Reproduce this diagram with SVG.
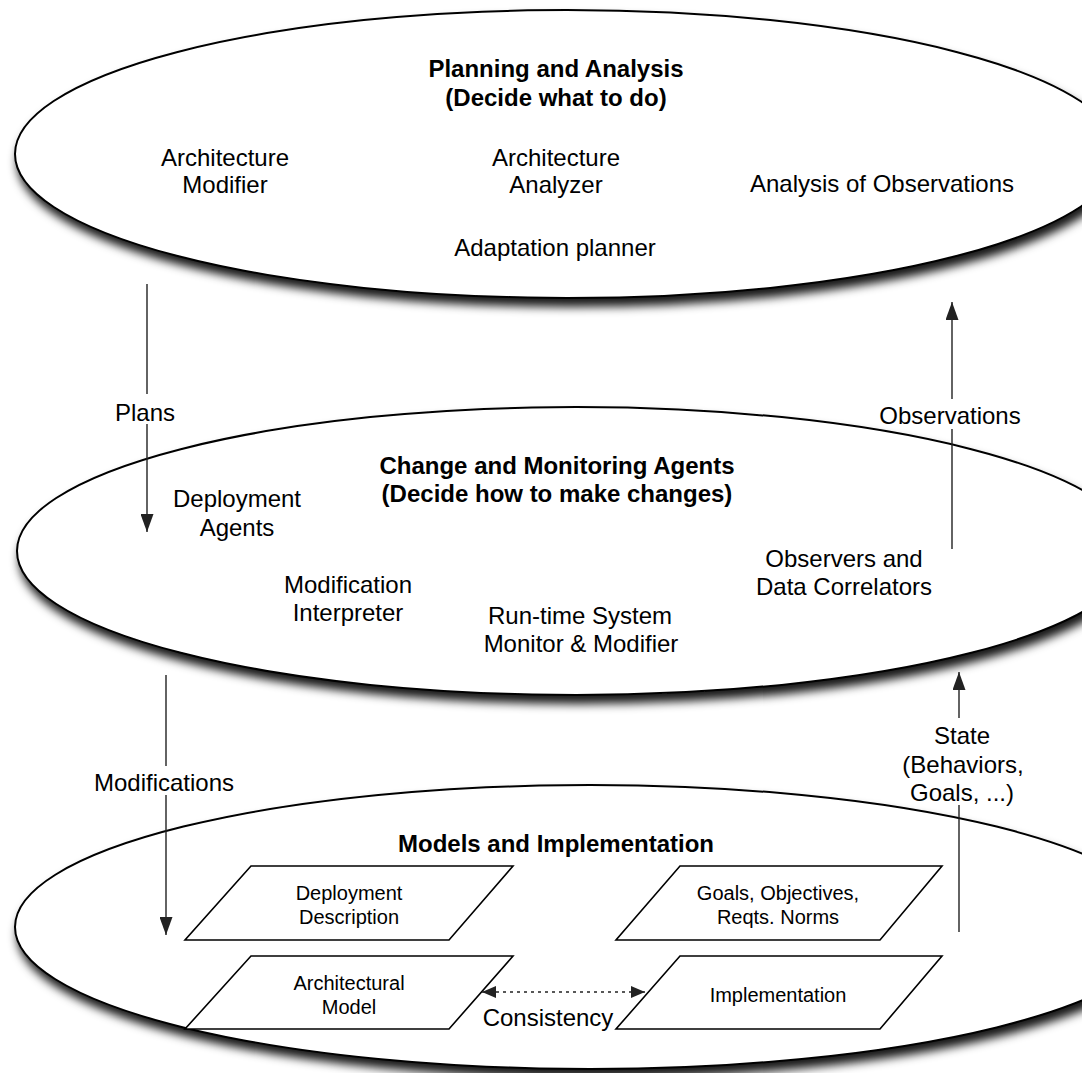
<svg xmlns="http://www.w3.org/2000/svg" width="1082" height="1073" viewBox="0 0 1082 1073">
<style>
  text { font-family: "Liberation Sans", Arial, sans-serif; fill: #000; text-anchor: middle; }
  .t { font-size: 24px; }
  .b { font-size: 24px; font-weight: bold; }
  .s { font-size: 20px; }
  .ell { fill: #fff; stroke: #000; stroke-width: 2; filter: url(#sh); }
  .para { fill: #fff; stroke: #000; stroke-width: 1.6; }
  .ln { stroke: #222; stroke-width: 1.4; fill: none; }
  .dot { stroke: #222; stroke-width: 1.6; fill: none; stroke-dasharray: 3 4; }
</style>
<defs>
  <filter id="sh" x="-5%" y="-10%" width="110%" height="125%">
    <feDropShadow dx="3" dy="8" stdDeviation="5" flood-color="#000" flood-opacity="0.9"/>
  </filter>
  <marker id="ah" viewBox="0 0 18 13" refX="18" refY="6.5" markerWidth="18" markerHeight="13" orient="auto" markerUnits="userSpaceOnUse">
    <path d="M0,0 L18,6.5 L0,13 z" fill="#222"/>
  </marker>
  <marker id="ah2" viewBox="0 0 14 12" refX="14" refY="6" markerWidth="14" markerHeight="12" orient="auto-start-reverse" markerUnits="userSpaceOnUse">
    <path d="M0,0 L14,6 L0,12 z" fill="#222"/>
  </marker>
</defs>
<rect width="1082" height="1073" fill="#fff"/>

<g id="planning">
  <ellipse class="ell" cx="567" cy="154" rx="552" ry="144"/>
  <text class="b" x="556" y="76.5">Planning and Analysis</text>
  <text class="b" x="556" y="105.5">(Decide what to do)</text>
  <text class="t" x="225" y="165.5">Architecture</text>
  <text class="t" x="225" y="192.5">Modifier</text>
  <text class="t" x="556" y="165.5">Architecture</text>
  <text class="t" x="556" y="192.5">Analyzer</text>
  <text class="t" x="882" y="191.5">Analysis of Observations</text>
  <text class="t" x="555" y="255.5">Adaptation planner</text>
</g>

<g id="change">
  <ellipse class="ell" cx="576" cy="551" rx="559" ry="144"/>
  <text class="b" x="557" y="473.5">Change and Monitoring Agents</text>
  <text class="b" x="557" y="501.5">(Decide how to make changes)</text>
  <text class="t" x="237" y="506.5">Deployment</text>
  <text class="t" x="237" y="535.5">Agents</text>
  <text class="t" x="348" y="592.5">Modification</text>
  <text class="t" x="348" y="620.5">Interpreter</text>
  <text class="t" x="580" y="623.5">Run-time System</text>
  <text class="t" x="581" y="651.5">Monitor &amp; Modifier</text>
  <text class="t" x="844" y="566.5">Observers and</text>
  <text class="t" x="844" y="594.5">Data Correlators</text>
</g>

<g id="models">
  <ellipse class="ell" cx="590" cy="927" rx="575" ry="142"/>
  <text class="b" x="556" y="851.5">Models and Implementation</text>
  <g id="deployment-description">
    <polygon class="para" points="251,866 513,866 449,940 185,940"/>
    <text class="s" x="349" y="900">Deployment</text>
    <text class="s" x="349" y="924">Description</text>
  </g>
  <g id="architectural-model">
    <polygon class="para" points="251,956 513,956 449,1029 185,1029"/>
    <text class="s" x="349" y="990">Architectural</text>
    <text class="s" x="349" y="1014">Model</text>
  </g>
  <g id="goals">
    <polygon class="para" points="680,866 942,866 880,940 616,940"/>
    <text class="s" x="778" y="900">Goals, Objectives,</text>
    <text class="s" x="778" y="924">Reqts. Norms</text>
  </g>
  <g id="implementation">
    <polygon class="para" points="680,956 942,956 880,1029 616,1029"/>
    <text class="s" x="778" y="1002">Implementation</text>
  </g>
</g>

<g id="connectors">
  <!-- Plans -->
  <line class="ln" x1="147" y1="284" x2="147" y2="394"/>
  <line class="ln" x1="147" y1="424" x2="147" y2="532" marker-end="url(#ah)"/>
  <text class="t" x="145" y="420.5">Plans</text>
  <!-- Observations -->
  <line class="ln" x1="952" y1="549" x2="952" y2="429"/>
  <line class="ln" x1="952" y1="399" x2="952" y2="302" marker-end="url(#ah)"/>
  <text class="t" x="950" y="424">Observations</text>
  <!-- Modifications -->
  <line class="ln" x1="166" y1="675" x2="166" y2="766"/>
  <line class="ln" x1="166" y1="795" x2="166" y2="935" marker-end="url(#ah)"/>
  <text class="t" x="164" y="790.5">Modifications</text>
  <!-- State -->
  <line class="ln" x1="959" y1="932" x2="959" y2="805"/>
  <line class="ln" x1="959" y1="718" x2="959" y2="672" marker-end="url(#ah)"/>
  <text class="t" x="962" y="743.5">State</text>
  <text class="t" x="963" y="772.5">(Behaviors,</text>
  <text class="t" x="962" y="800.5">Goals, ...)</text>
  <!-- Consistency -->
  <line class="dot" x1="482" y1="992" x2="645" y2="992" marker-start="url(#ah2)" marker-end="url(#ah2)"/>
  <text class="t" x="548" y="1025.5">Consistency</text>
</g>
</svg>
